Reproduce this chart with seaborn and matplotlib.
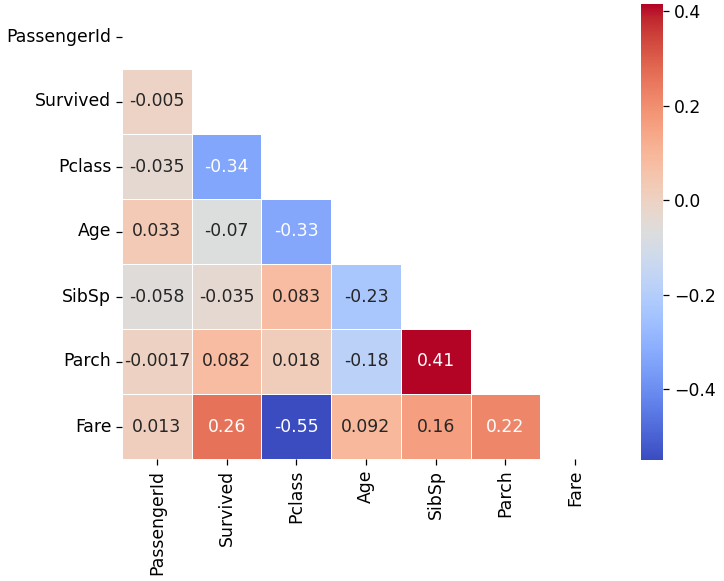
import numpy as np
import pandas as pd
import matplotlib
matplotlib.use("Agg")
import matplotlib.pyplot as plt
import seaborn as sns

labels = ["PassengerId", "Survived", "Pclass", "Age", "SibSp", "Parch", "Fare"]

# lower-triangle correlations, row by row
row_passengerid = []
row_survived = [-0.005007]
row_pclass = [-0.035144, -0.338481]
row_age = [0.033207, -0.069809, -0.331339]
row_sibsp = [-0.057527, -0.035322, 0.083081, -0.232625]
row_parch = [-0.001652, 0.081629, 0.018443, -0.179191, 0.414838]
row_fare = [0.012658, 0.257307, -0.549500, 0.091566, 0.159651, 0.216225]

rows = [row_passengerid, row_survived, row_pclass, row_age, row_sibsp, row_parch, row_fare]
n = len(labels)
mat = np.eye(n)
for i, r in enumerate(rows):
    for j, v in enumerate(r):
        mat[i, j] = v
        mat[j, i] = v
corr = pd.DataFrame(mat, index=labels, columns=labels)
mask = np.triu(np.ones_like(mat, dtype=bool))

fs = 12.4
fig = plt.figure(figsize=(7.24, 5.81), dpi=100)
ax = fig.add_axes([122/724, 1-459/581, (610-122)/724, (459-4)/581])
cax = fig.add_axes([641/724, 1-460/581, 22/724, (460-4)/581])
sns.heatmap(corr, mask=mask, annot=True, cmap="coolwarm", linewidths=0.6,
            linecolor="white", ax=ax, cbar_ax=cax, annot_kws={"fontsize": fs})
ax.tick_params(labelsize=fs, length=4.2, width=0.9)
cax.tick_params(labelsize=fs, length=4.2, width=0.9)
fig.savefig("out.png", dpi=100)
